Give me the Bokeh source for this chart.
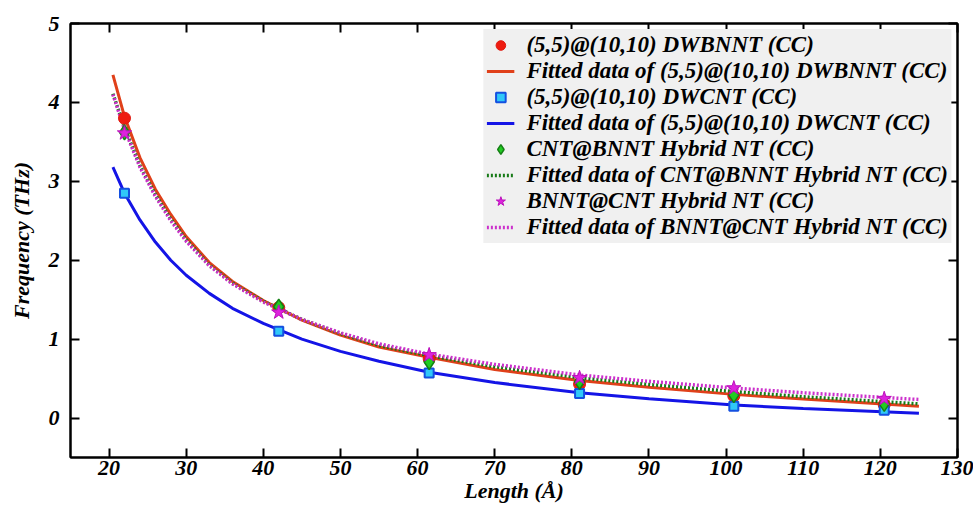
from bokeh.plotting import figure
from bokeh.models import (Range1d, LinearAxis, Legend, LegendItem, FixedTicker,
                          CustomLabelingPolicy)
from bokeh.embed import file_html
from bokeh.resources import INLINE

# ---- data ----
length = [22, 42, 61.5, 81, 101, 120.5]
dwbnnt = [3.80, 1.40, 0.75, 0.43, 0.28, 0.17]
dwcnt = [2.85, 1.10, 0.57, 0.31, 0.15, 0.10]
cnt_bnnt = [3.62, 1.41, 0.71, 0.46, 0.29, 0.18]
bnnt_cnt = [3.61, 1.34, 0.80, 0.51, 0.38, 0.245]

fit_length = [20.5, 22, 24, 26, 28, 30, 33, 36, 40, 45, 50, 55, 61.5, 70, 81, 90, 101, 110, 125]
fit_dwbnnt = [4.35, 3.82, 3.30, 2.90, 2.58, 2.30, 1.97, 1.73, 1.49, 1.24, 1.05, 0.90, 0.77, 0.615, 0.475, 0.39, 0.30, 0.24, 0.15]
fit_dwcnt = [3.18, 2.85, 2.51, 2.23, 2.00, 1.81, 1.58, 1.39, 1.20, 1.00, 0.845, 0.72, 0.58, 0.45, 0.32, 0.245, 0.165, 0.12, 0.06]
fit_cnt_bnnt = [4.11, 3.68, 3.20, 2.83, 2.52, 2.26, 1.94, 1.71, 1.48, 1.25, 1.07, 0.92, 0.79, 0.65, 0.51, 0.425, 0.335, 0.27, 0.18]
fit_bnnt_cnt = [4.10, 3.66, 3.18, 2.81, 2.50, 2.24, 1.93, 1.70, 1.47, 1.25, 1.08, 0.94, 0.81, 0.68, 0.545, 0.465, 0.38, 0.32, 0.235]

x_ticks = [20, 30, 40, 50, 60, 70, 80, 90, 100, 110, 120, 130]
y_ticks = [0, 1, 2, 3, 4, 5]

labels = [
    "(5,5)@(10,10) DWBNNT (CC)",
    "Fitted data of (5,5)@(10,10) DWBNNT (CC)",
    "(5,5)@(10,10) DWCNT (CC)",
    "Fitted data of (5,5)@(10,10) DWCNT (CC)",
    "CNT@BNNT Hybrid NT (CC)",
    "Fitted data of CNT@BNNT Hybrid NT (CC)",
    "BNNT@CNT Hybrid NT (CC)",
    "Fitted data of BNNT@CNT Hybrid NT (CC)",
]

FONT = "Liberation Serif"
FS = "22px"

p = figure(width=973, height=505, output_backend="svg", toolbar_location=None,
           x_range=Range1d(15, 130), y_range=Range1d(-0.5, 5),
           min_border_left=70, min_border_right=16, min_border_top=23, min_border_bottom=48)
p.background_fill_color = "white"
p.border_fill_color = "white"
p.grid.visible = False
p.outline_line_color = "black"
p.outline_line_width = 2

no_labels = CustomLabelingPolicy(code="""
    try {
      for (let k = 0; k < indices.size; k++) indices.unset(k)
    } catch (e) {}
    return indices
""")

def style_axis(ax, ticks, show_labels=True):
    ax.ticker = FixedTicker(ticks=ticks)
    ax.axis_line_color = "black"
    ax.axis_line_width = 2
    ax.major_tick_line_color = "black"
    ax.major_tick_line_width = 2
    ax.major_tick_in = 9
    ax.major_tick_out = 0
    ax.minor_tick_line_color = None
    ax.major_label_text_font = FONT
    ax.major_label_text_font_style = "bold italic"
    ax.major_label_text_color = "black"
    ax.axis_label_text_font = FONT
    ax.axis_label_text_font_style = "bold italic"
    ax.axis_label_text_font_size = FS
    ax.axis_label_text_color = "black"
    if show_labels:
        ax.major_label_text_font_size = FS
    else:
        ax.major_label_text_font_size = "1px"
        ax.major_label_standoff = 0
        ax.major_label_policy = no_labels

xa = p.xaxis[0]
style_axis(xa, x_ticks)
xa.axis_label = "Length (Å)"
xa.major_label_standoff = 3
xa.axis_label_standoff = 0

ya = p.yaxis[0]
style_axis(ya, y_ticks)
ya.axis_label = "Frequency (THz)"
ya.major_label_standoff = 11
ya.axis_label_standoff = 12

top = LinearAxis()
style_axis(top, x_ticks, show_labels=False)
p.add_layout(top, "above")

right = LinearAxis()
style_axis(right, y_ticks, show_labels=False)
p.add_layout(right, "right")

# fitted curves
l1 = p.line(fit_length, fit_dwbnnt, line_color="#e0401a", line_width=3)
l2 = p.line(fit_length, fit_dwcnt, line_color="#1414e6", line_width=3)
l3 = p.line(fit_length, fit_cnt_bnnt, line_color="#167a16", line_width=3.5, line_dash="2 2")
l4 = p.line(fit_length, fit_bnnt_cnt, line_color="#cc30cc", line_width=3.5, line_dash="2 2")

# data points
s1 = p.scatter(length, dwbnnt, marker="circle", size=12, fill_color="#ee1c10", line_color="#e01a10")
s2 = p.scatter(length, dwcnt, marker="square", size=9, fill_color="#30c8f8", line_color="#1450e0", line_width=2)
s3 = p.scatter(length, cnt_bnnt, marker="diamond", size=15, fill_color="#22cc22", line_color="#158015", line_width=1.5)
s4 = p.scatter(length, bnnt_cnt, marker="star", size=15, fill_color="#dd22dd", line_color="#bb10bb", line_width=1)

items = [LegendItem(label=lab, renderers=[r]) for lab, r in
         zip(labels, [s1, l1, s2, l2, s3, l3, s4, l4])]
legend = Legend(items=items, location="top_right")
legend.background_fill_color = "#f0f0f0"
legend.background_fill_alpha = 1
legend.border_line_alpha = 0
legend.label_text_font = FONT
legend.label_text_font_style = "bold italic"
legend.label_text_font_size = "23px"
legend.label_text_color = "black"
legend.label_height = 24
legend.glyph_height = 24
legend.glyph_width = 28
legend.label_standoff = 12
legend.spacing = 0
legend.padding = 3
legend.margin = 6
p.add_layout(legend, "center")

open("out.html", "w").write(file_html(p, INLINE))
